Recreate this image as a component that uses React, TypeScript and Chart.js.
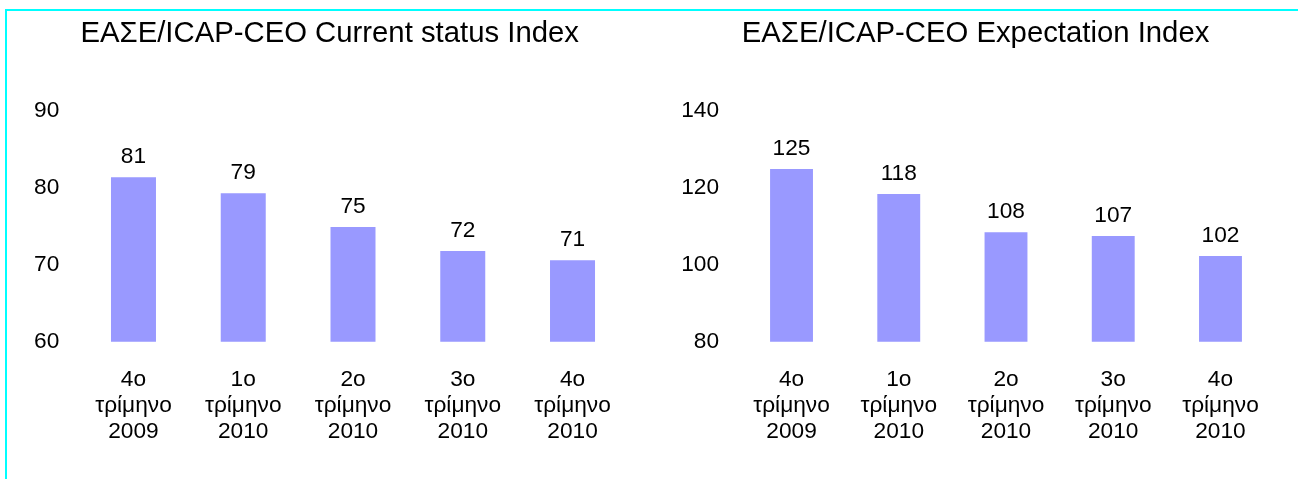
import React, { useEffect, useRef } from "react";
import { Chart, registerables } from "chart.js";

Chart.register(...registerables);

// ---------- data ----------
const categories: string[][] = [
  ["4ο", "τρίμηνο", "2009"],
  ["1ο", "τρίμηνο", "2010"],
  ["2ο", "τρίμηνο", "2010"],
  ["3ο", "τρίμηνο", "2010"],
  ["4ο", "τρίμηνο", "2010"],
];

const currentTitle = "ΕΑΣΕ/ICAP-CEO Current status Index";
const currentValues = [81.4, 79.3, 74.9, 71.8, 70.6];
const currentTicks = [60, 70, 80, 90];

const expectationTitle = "ΕΑΣΕ/ICAP-CEO Expectation Index";
const expectationValues = [124.8, 118.3, 108.4, 107.4, 102.2];
const expectationTicks = [80, 100, 120, 140];

// ---------- style ----------
const FONT = '"Liberation Sans", Arial, Helvetica, sans-serif';
const BAR_COLOR = "#9999FF";
const TITLE_SIZE = 29.3;
const TICK_SIZE = 22.7;
const CANVAS_H = 479;

const valueLabelPlugin = {
  id: "valueLabels",
  afterDatasetsDraw(chart: any) {
    const ctx = chart.ctx;
    const meta = chart.getDatasetMeta(0);
    const data = chart.data.datasets[0].data as number[];
    ctx.save();
    ctx.font = `${TICK_SIZE}px ${FONT}`;
    ctx.fillStyle = "#000";
    ctx.textAlign = "center";
    ctx.textBaseline = "middle";
    meta.data.forEach((el: any, i: number) => {
      ctx.fillText(String(Math.round(data[i])), el.x, el.y - 20.5);
    });
    ctx.restore();
  },
};

interface PanelProps {
  title: string;
  values: number[];
  ticks: number[];
  left: number;
  width: number;
  padRight: number;
  yWidth: number;
  yPad: number;
  areaTop: number;
  areaBottom: number;
  barPct: number;
}

function Panel(p: PanelProps) {
  const ref = useRef<HTMLCanvasElement | null>(null);
  useEffect(() => {
    if (!ref.current) return;
    const titleLine = TITLE_SIZE * 1.2;
    const titleTopPad = 34.2 - titleLine / 2;
    const titleBottomPad = p.areaTop - titleTopPad - titleLine;
    const chart = new Chart(ref.current, {
      type: "bar",
      data: {
        labels: categories,
        datasets: [
          {
            data: p.values,
            backgroundColor: BAR_COLOR,
            borderWidth: 0,
            barPercentage: p.barPct,
            categoryPercentage: 1,
          },
        ],
      },
      options: {
        responsive: false,
        animation: false,
        layout: { padding: { left: 0, right: p.padRight, top: 0, bottom: 0 } },
        plugins: {
          legend: { display: false },
          tooltip: { enabled: false },
          title: {
            display: true,
            text: p.title,
            color: "#000",
            font: { family: FONT, size: TITLE_SIZE, weight: "normal", lineHeight: 1.2 },
            padding: { top: titleTopPad, bottom: titleBottomPad },
          },
        },
        scales: {
          x: {
            grid: { display: false, drawTicks: false, tickLength: 0 },
            border: { display: false },
            ticks: {
              color: "#000",
              font: { family: FONT, size: TICK_SIZE, lineHeight: 1.134 },
              padding: 25.6,
              maxRotation: 0,
              minRotation: 0,
              autoSkip: false,
            },
            afterFit: (s: any) => {
              s.height = CANVAS_H - p.areaBottom;
              s.paddingLeft = 0;
              s.paddingRight = 0;
            },
          },
          y: {
            min: p.ticks[0],
            max: p.ticks[p.ticks.length - 1],
            grid: { display: false, drawTicks: false, tickLength: 0 },
            border: { display: false },
            afterBuildTicks: (s: any) => {
              s.ticks = p.ticks.map((v) => ({ value: v }));
            },
            ticks: {
              color: "#000",
              font: { family: FONT, size: TICK_SIZE },
              padding: p.yPad,
            },
            afterFit: (s: any) => {
              s.width = p.yWidth;
            },
          },
        },
      },
      plugins: [valueLabelPlugin],
    } as any);
    return () => chart.destroy();
  }, []);
  return (
    <canvas
      ref={ref}
      width={p.width}
      height={CANVAS_H}
      style={{ position: "absolute", left: p.left, top: 0, width: p.width, height: CANVAS_H }}
    />
  );
}

export default function App() {
  return (
    <div
      style={{
        position: "absolute",
        left: 0,
        top: 0,
        width: 1298,
        height: 479,
        overflow: "hidden",
        background: "#fff",
      }}
    >
      <div
        style={{
          position: "absolute",
          left: 5,
          top: 9,
          width: 1400,
          height: 600,
          border: "2px solid #00FFFF",
          boxSizing: "border-box",
        }}
      />
      <Panel
        title={currentTitle}
        values={currentValues}
        ticks={currentTicks}
        left={32}
        width={597}
        padRight={1.6}
        yWidth={46.6}
        yPad={19.3}
        areaTop={111}
        areaBottom={341.7}
        barPct={0.41}
      />
      <Panel
        title={expectationTitle}
        values={expectationValues}
        ticks={expectationTicks}
        left={677}
        width={598}
        padRight={0.9}
        yWidth={60.9}
        yPad={18.9}
        areaTop={110.3}
        areaBottom={341.7}
        barPct={0.4}
      />
    </div>
  );
}
